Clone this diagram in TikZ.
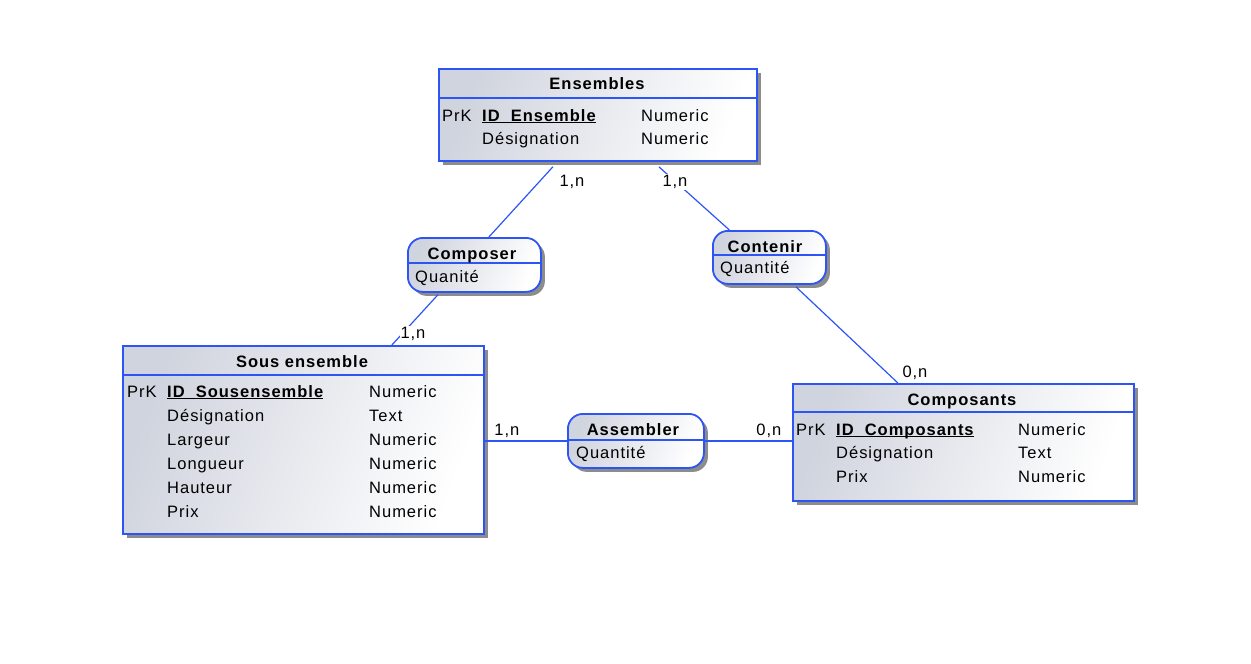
\documentclass[tikz,border=0pt]{standalone}
\usepackage{fontspec}
\setmainfont{Liberation Sans}[LetterSpace=6]
\usetikzlibrary{shadows}
\definecolor{merise}{RGB}{45,85,245}
\definecolor{boxgray}{RGB}{208,212,222}
\newcommand{\pkey}[1]{\setbox0=\hbox{\bfseries#1}\rlap{\rule[-2.2pt]{\wd0}{1.2pt}}\box0}
\begin{document}
\begin{tikzpicture}[x=1pt,y=-1pt,
  every node/.style={font=\fontsize{16.5}{19}\selectfont,inner sep=0pt},
  shadebox/.style={draw=merise,line width=1.8pt,left color=boxgray,right color=white,shading angle=70,
    drop shadow={shadow xshift=4pt,shadow yshift=-4pt,fill=black!45,opacity=1},anchor=north west},
  entity/.style={shadebox},
  assoc/.style={shadebox,rounded corners=15pt},
  sep/.style={draw=merise,line width=1.6pt},
  title/.style={font=\fontsize{16.5}{19}\selectfont\bfseries,anchor=base},
  attr/.style={anchor=base west},
  link/.style={draw=merise,line width=1.2pt},
  card/.style={fill=white,inner sep=1pt}]
\useasboundingbox (0,0) rectangle (1251,664);
% entities
\node[entity,minimum width=318pt,minimum height=92pt] (ens) at (438,68) {};
\draw[sep] ([yshift=-30pt]ens.north west) -- ([yshift=-30pt]ens.north east);
\node[title] (ens-t) at (597,89) {Ensembles};
\node[attr] (ens-k) at (442,121) {PrK};
\node[attr] (ens-a1) at (482,121) {\pkey{ID\_Ensemble}};
\node[attr] (ens-y1) at (641,121) {Numeric};
\node[attr] (ens-a2) at (482,144) {Désignation};
\node[attr] (ens-y2) at (641,144) {Numeric};

\node[entity,minimum width=361pt,minimum height=188pt] (sous) at (122,345) {};
\draw[sep] ([yshift=-30pt]sous.north west) -- ([yshift=-30pt]sous.north east);
\node[title] (sous-t) at (302,367) {Sous ensemble};
\node[attr] (sous-k) at (127,397) {PrK};
\node[attr] (sous-a1) at (167,397) {\pkey{ID\_Sousensemble}};
\node[attr] (sous-y1) at (369,397) {Numeric};
\node[attr] (sous-a2) at (167,421) {Désignation};
\node[attr] (sous-y2) at (369,421) {Text};
\node[attr] (sous-a3) at (167,445) {Largeur};
\node[attr] (sous-y3) at (369,445) {Numeric};
\node[attr] (sous-a4) at (167,469) {Longueur};
\node[attr] (sous-y4) at (369,469) {Numeric};
\node[attr] (sous-a5) at (167,493) {Hauteur};
\node[attr] (sous-y5) at (369,493) {Numeric};
\node[attr] (sous-a6) at (167,517) {Prix};
\node[attr] (sous-y6) at (369,517) {Numeric};

\node[entity,minimum width=341pt,minimum height=117pt] (cps) at (792,383) {};
\draw[sep] ([yshift=-29pt]cps.north west) -- ([yshift=-29pt]cps.north east);
\node[title] (cps-t) at (962,405) {Composants};
\node[attr] (cps-k) at (796,435) {PrK};
\node[attr] (cps-a1) at (836,435) {\pkey{ID\_Composants}};
\node[attr] (cps-y1) at (1018,435) {Numeric};
\node[attr] (cps-a2) at (836,458) {Désignation};
\node[attr] (cps-y2) at (1018,458) {Text};
\node[attr] (cps-a3) at (836,482) {Prix};
\node[attr] (cps-y3) at (1018,482) {Numeric};

% associations
\node[assoc,minimum width=133pt,minimum height=54pt] (cmp) at (407,237) {};
\draw[sep] ([yshift=-26pt]cmp.north west) -- ([yshift=-26pt]cmp.north east);
\node[title] (cmp-t) at (472,259) {Composer};
\node[attr] (cmp-a) at (415,282) {Quanité};

\node[assoc,minimum width=113pt,minimum height=53pt] (cnt) at (712,230) {};
\draw[sep] ([yshift=-25pt]cnt.north west) -- ([yshift=-25pt]cnt.north east);
\node[title] (cnt-t) at (765,252) {Contenir};
\node[attr] (cnt-a) at (720,273) {Quantité};

\node[assoc,minimum width=136pt,minimum height=54pt] (asm) at (567,413) {};
\draw[sep] ([yshift=-27pt]asm.north west) -- ([yshift=-27pt]asm.north east);
\node[title] (asm-t) at (633,435) {Assembler};
\node[attr] (asm-a) at (576,458) {Quantité};

% links
\draw[link] ([xshift=-45pt,yshift=-5pt]ens.south) -- ([xshift=14.5pt]cmp.north)
  node[card,at start,anchor=base west,xshift=5pt,yshift=-20pt] (c1) {1,n};
\draw[link] ([xshift=61pt,yshift=-5pt]ens.south) -- ([xshift=-40pt]cnt.north)
  node[card,at start,anchor=base west,xshift=2pt,yshift=-20pt] (c2) {1,n};
\draw[link] ([xshift=-36.5pt,yshift=-2pt]cmp.south) -- ([xshift=88.5pt]sous.north)
  node[card,at end,anchor=base west,xshift=7pt,yshift=7pt] (c3) {1,n};
\draw[link] ([xshift=26.5pt,yshift=-2pt]cnt.south) -- ([xshift=-65.5pt]cps.north)
  node[card,at end,anchor=base west,xshift=3pt,yshift=6pt] (c4) {0,n};
\draw[link] (sous.east |- asm.west) -- (asm.west)
  node[card,at start,anchor=base west,xshift=8pt,yshift=5pt] (c5) {1,n};
\draw[link] (asm.east) -- (asm.east -| cps.west)
  node[card,at end,anchor=base east,xshift=-9pt,yshift=5pt] (c6) {0,n};
\end{tikzpicture}
\end{document}
